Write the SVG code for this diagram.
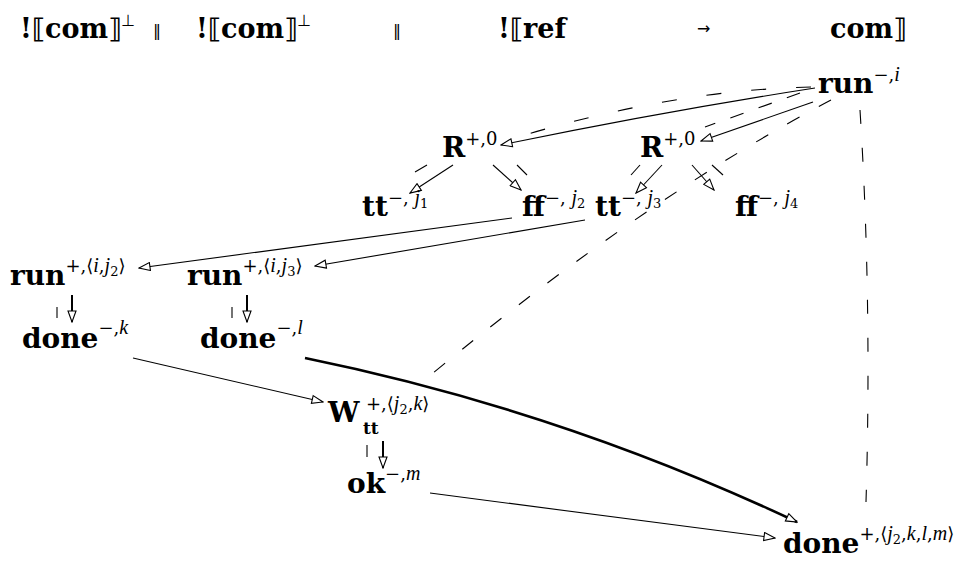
<svg xmlns="http://www.w3.org/2000/svg" width="967" height="566" viewBox="0 0 967 566">
<defs>
<style>
.n{font-family:"DejaVu Serif","DejaVu Sans",serif;font-weight:bold;font-size:28px;fill:#000}
.s{font-family:"DejaVu Serif","DejaVu Sans",serif;font-weight:normal;font-size:18px}
.i{font-family:"Liberation Serif",serif;font-style:italic;font-size:20px}
.ss{font-family:"DejaVu Serif",serif;font-style:normal;font-size:13px}
.h{font-family:"DejaVu Serif","DejaVu Sans",serif;font-weight:bold;font-size:27px;fill:#000}
.hs{font-family:"DejaVu Sans",sans-serif;font-weight:normal;font-size:16px}
.e{fill:none;stroke:#000;stroke-width:1.1}
.t{fill:none;stroke:#000;stroke-width:2.6}
.v{fill:none;stroke:#000;stroke-width:2}
.d{fill:none;stroke:#000;stroke-width:1.1;stroke-dasharray:14 22}
</style>
<marker id="ah" viewBox="0 0 13 10" refX="12" refY="5" markerWidth="13" markerHeight="10" orient="auto" markerUnits="userSpaceOnUse">
<path d="M1,1 L12,5 L1,9 Z" fill="#fff" stroke="#000" stroke-width="1.1"/>
</marker>
</defs>
<rect width="967" height="566" fill="#fff"/>
<g id="header">
<text class="h" x="20" y="38">!⟦com⟧<tspan class="hs" dy="-12">⊥</tspan></text>
<text class="hs" x="153" y="36">‖</text>
<text class="h" x="196" y="38">!⟦com⟧<tspan class="hs" dy="-12">⊥</tspan></text>
<text class="hs" x="393" y="36">‖</text>
<text class="h" x="498" y="38">!⟦ref</text>
<text class="hs" x="697" y="34">→</text>
<text class="h" x="830" y="38">com⟧</text>
</g>
<g id="connectors">
<path class="e" d="M815,88 Q660,112 501,145" marker-end="url(#ah)"/>
<path class="e" d="M813,102 L701,141" marker-end="url(#ah)"/>
<path class="e" d="M453,165 L410,193" marker-end="url(#ah)"/>
<path class="e" d="M493,165 L521,190" marker-end="url(#ah)"/>
<path class="e" d="M662,165 L636,193" marker-end="url(#ah)"/>
<path class="e" d="M692,165 L714,190" marker-end="url(#ah)"/>
<path class="e" d="M512,218 L139,268" marker-end="url(#ah)"/>
<path class="e" d="M585,220 L315,266" marker-end="url(#ah)"/>
<path class="v" d="M72,295 L72,322" marker-end="url(#ah)"/>
<path class="v" d="M247,295 L247,322" marker-end="url(#ah)"/>
<path class="v" d="M383,441 L383,468" marker-end="url(#ah)"/>
<path class="e" d="M133,358 L323,402" marker-end="url(#ah)"/>
<path class="t" d="M305,358 Q560,410 797,522" marker-end="url(#ah)"/>
<path class="e" d="M430,493 L775,538" marker-end="url(#ah)"/>
<path class="e" d="M415,172 L427,165"/>
<path class="e" d="M517,165 L527,175"/>
<path class="e" d="M631,175 L640,165"/>
<path class="e" d="M712,165 L723,175"/>
<path class="e" d="M57,307 L57,318"/>
<path class="e" d="M232,307 L232,318"/>
<path class="e" d="M367,445 L367,457"/>
<path class="d" style="stroke-dasharray:15 30" d="M811,87 Q670,90 508,140"/>
<path class="d" style="stroke-dasharray:14 16" d="M800,93 L705,127"/>
<path class="d" d="M831,100 Q650,195 433,373"/>
<path class="d" style="stroke-dasharray:14 24" d="M860,110 Q872,300 866,502"/>
</g>
<g id="run-i"><text class="n" x="818" y="93">run<tspan class="s" dy="-12">−,<tspan class="i">i</tspan></tspan></text></g>
<g id="R-left"><text class="n" x="442" y="157">R<tspan class="s" dy="-12">+,0</tspan></text></g>
<g id="R-right"><text class="n" x="640" y="157">R<tspan class="s" dy="-12">+,0</tspan></text></g>
<g id="tt-j1"><text class="n" x="362" y="216">tt<tspan class="s" dy="-12">−, <tspan class="i">j</tspan><tspan class="ss" dy="4">1</tspan></tspan></text></g>
<g id="ff-j2"><text class="n" x="522" y="216">ff<tspan class="s" dy="-12">−, <tspan class="i">j</tspan><tspan class="ss" dy="4">2</tspan></tspan></text></g>
<g id="tt-j3"><text class="n" x="595" y="216">tt<tspan class="s" dy="-12">−, <tspan class="i">j</tspan><tspan class="ss" dy="4">3</tspan></tspan></text></g>
<g id="ff-j4"><text class="n" x="735" y="216">ff<tspan class="s" dy="-12">−, <tspan class="i">j</tspan><tspan class="ss" dy="4">4</tspan></tspan></text></g>
<g id="run-ij2"><text class="n" x="10" y="285">run<tspan class="s" dy="-13">+,⟨<tspan class="i">i</tspan>,<tspan class="i">j</tspan><tspan class="ss" dy="4">2</tspan><tspan dy="-4">⟩</tspan></tspan></text></g>
<g id="run-ij3"><text class="n" x="187" y="285">run<tspan class="s" dy="-13">+,⟨<tspan class="i">i</tspan>,<tspan class="i">j</tspan><tspan class="ss" dy="4">3</tspan><tspan dy="-4">⟩</tspan></tspan></text></g>
<g id="done-k"><text class="n" x="22" y="348">done<tspan class="s" dy="-14">−,<tspan class="i">k</tspan></tspan></text></g>
<g id="done-l"><text class="n" x="200" y="348">done<tspan class="s" dy="-14">−,<tspan class="i">l</tspan></tspan></text></g>
<g id="W"><text class="n" x="328" y="422">W</text><text class="n" style="font-size:17px" x="363" y="434">tt</text><text class="s" x="366" y="410">+,⟨<tspan class="i">j</tspan><tspan class="ss" dy="4">2</tspan><tspan dy="-4">,</tspan><tspan class="i">k</tspan>⟩</text></g>
<g id="ok-m"><text class="n" x="347" y="493">ok<tspan class="s" dy="-13">−,<tspan class="i">m</tspan></tspan></text></g>
<g id="done-final"><text class="n" x="783" y="553">done<tspan class="s" dy="-13">+,⟨<tspan class="i">j</tspan><tspan class="ss" dy="4">2</tspan><tspan dy="-4">,</tspan><tspan class="i">k</tspan>,<tspan class="i">l</tspan>,<tspan class="i">m</tspan>⟩</tspan></text></g>
</svg>
